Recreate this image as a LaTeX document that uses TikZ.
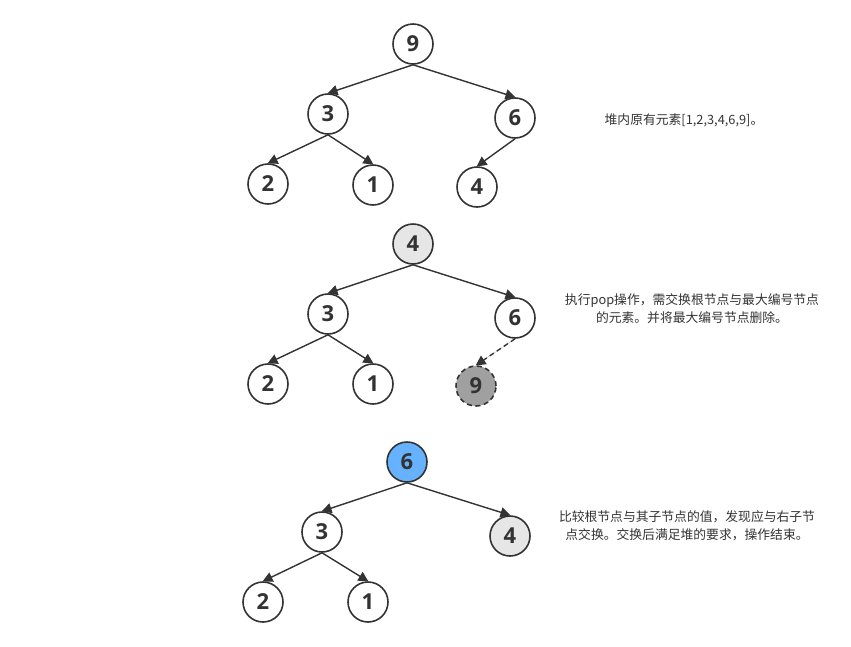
\documentclass[tikz,border=0pt]{standalone}
\usepackage{fontspec}
\setmainfont{Open Sans}
\newfontfamily\cjk{Noto Sans CJK SC}
\usetikzlibrary{arrows.meta}
\definecolor{ink}{HTML}{333333}
\definecolor{lightgray}{HTML}{E6E6E6}
\definecolor{midgray}{HTML}{A0A0A0}
\definecolor{heapblue}{HTML}{66B2FF}

\begin{document}
\begin{tikzpicture}[x=1pt, y=-1pt,
    num/.style={circle, draw=ink, line width=1.6pt, fill=white, minimum size=40pt, inner sep=0pt, text=ink, font=\fontsize{22}{22}\selectfont\bfseries},
    arrow/.style={-{Triangle[length=10pt, width=10pt]}, line width=1.4pt, draw=ink, fill=ink, shorten >=-0.5pt},
    gone/.style={dash pattern=on 5pt off 3.5pt},
    note/.style={align=center, text=ink, font=\cjk\fontsize{12.8}{18}\selectfont}
  ]
    \useasboundingbox (0,0) rectangle (851,646);

    % Tree 1: original heap
    \node[num] (a9) at (413,44) {9};
    \node[num] (a3) at (328,114) {3};
    \node[num] (a6) at (515,118) {6};
    \node[num] (a2) at (268,184) {2};
    \node[num] (a1) at (373,185) {1};
    \node[num] (a4) at (477,187) {4};
    \draw[arrow] (a9.south) -- (a3.north);
    \draw[arrow] (a9.south) -- (a6.north);
    \draw[arrow] (a3.south) -- (a2.north);
    \draw[arrow] (a3.south) -- (a1.north);
    \draw[arrow] (a6.south) -- (a4.north);
    \node[note] (t1) at (684,120) {堆内原有元素[1,2,3,4,6,9]。};

    % Tree 2: swap root and last
    \node[num, fill=lightgray] (b4) at (413,244) {4};
    \node[num] (b3) at (328,314) {3};
    \node[num] (b6) at (515,318) {6};
    \node[num] (b2) at (268,384) {2};
    \node[num] (b1) at (373,384) {1};
    \node[num, fill=midgray, gone] (b9) at (476,386) {9};
    \draw[arrow] (b4.south) -- (b3.north);
    \draw[arrow] (b4.south) -- (b6.north);
    \draw[arrow] (b3.south) -- (b2.north);
    \draw[arrow] (b3.south) -- (b1.north);
    \draw[arrow, gone] (b6.south) -- (b9.north);
    \node[note] (t2) at (692,309) {执行pop操作，需交换根节点与最大编号节点\\的元素。并将最大编号节点删除。};

    % Tree 3: sift down
    \node[num, fill=heapblue] (c6) at (407,462) {6};
    \node[num] (c3) at (322,532) {3};
    \node[num, fill=lightgray] (c4) at (510,536) {4};
    \node[num] (c2) at (263,602) {2};
    \node[num] (c1) at (368,602) {1};
    \draw[arrow] (c6.south) -- (c3.north);
    \draw[arrow] (c6.south) -- (c4.north);
    \draw[arrow] (c3.south) -- (c2.north);
    \draw[arrow] (c3.south) -- (c1.north);
    \node[note] (t3) at (687,526) {比较根节点与其子节点的值，发现应与右子节\\点交换。交换后满足堆的要求，操作结束。};

\end{tikzpicture}
\end{document}
